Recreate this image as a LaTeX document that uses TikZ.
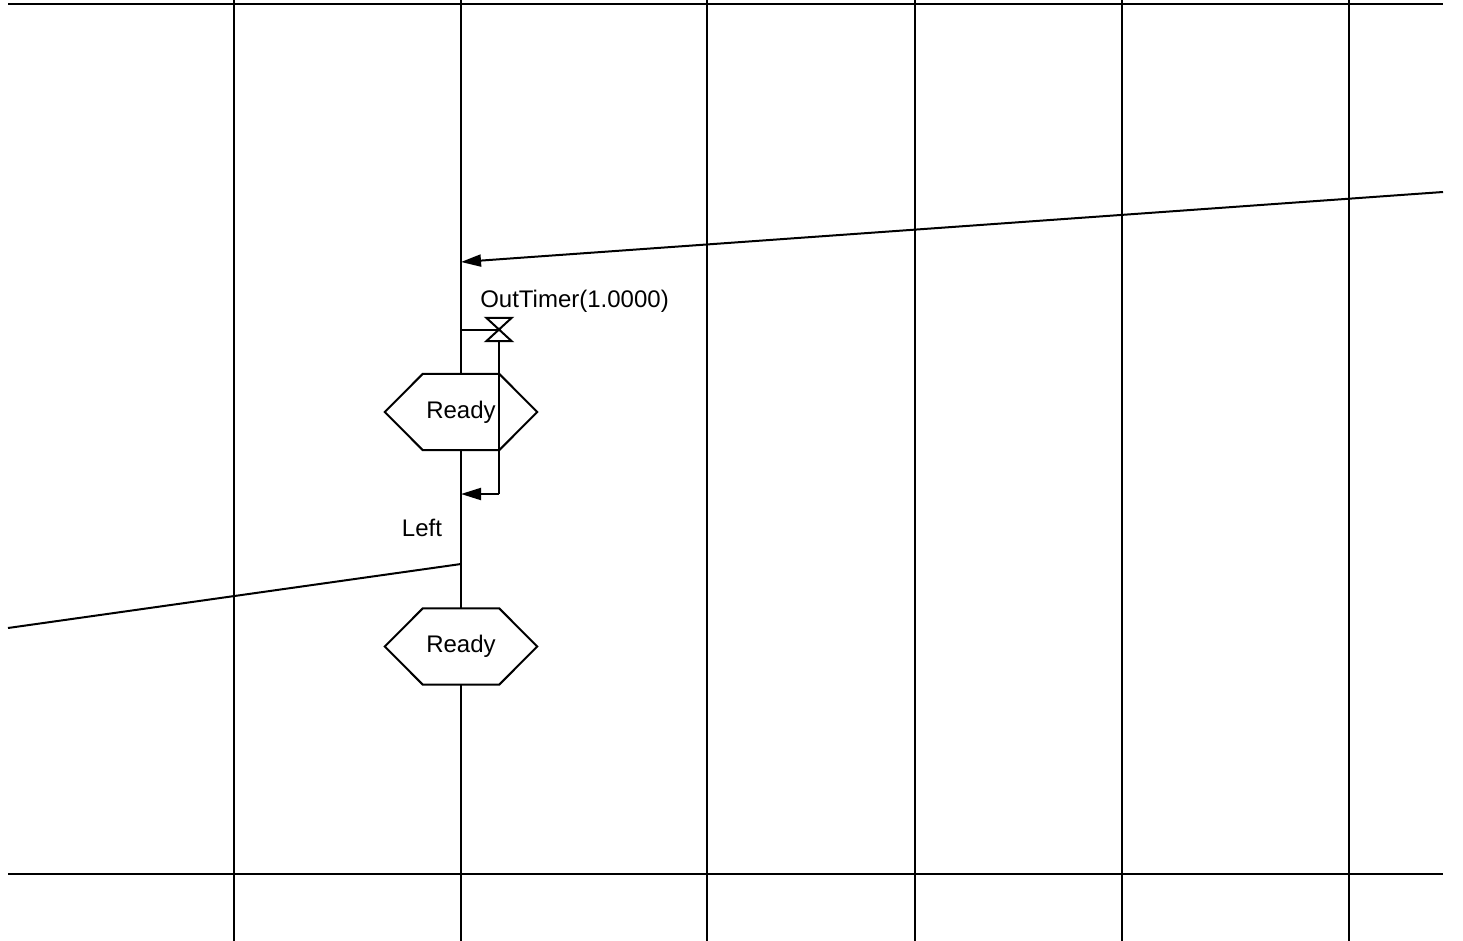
\documentclass[tikz,border=0pt]{standalone}
\usepackage{fontspec}
\setmainfont{Liberation Sans}
\usetikzlibrary{arrows.meta}
\begin{document}
\begin{tikzpicture}[x=1pt,y=-1pt,
  ln/.style={line width=2pt, black},
  msg/.style={ln, -{Triangle[length=20pt,width=12pt]}},
  lbl/.style={inner sep=0pt, font=\fontsize{24}{28}\selectfont},
  hexbox/.style={inner sep=0pt, minimum width=152pt, minimum height=76pt, font=\fontsize{24}{28}\selectfont},
  timerbox/.style={inner sep=0pt, minimum width=25pt, minimum height=23pt}]
\useasboundingbox (0,0) rectangle (1463,941);
% frame lines
\coordinate (tl) at (8,4.5); \coordinate (tr) at (1443,4.5);
\coordinate (bl) at (8,874); \coordinate (br) at (1443,874);
\draw[ln] (tl) -- (tr);
\draw[ln] (bl) -- (br);
% lifelines
\foreach \x/\n in {234/a,461/b,707/c,915/d,1122/e,1349/f}{
  \coordinate (\n top) at (\x,0);
  \coordinate (\n bot) at (\x,941);
  \draw[ln] (\n top) -- (\n bot);
}
% messages
\coordinate (m1s) at (1443,192);
\coordinate (m1e) at (461,262);
\draw[msg] (m1s) -- (m1e);
\coordinate (m2s) at (461,564);
\coordinate (m2e) at (8,628);
\draw[ln] (m2s) -- (m2e);
\node[lbl] (leftlbl) at (422,528) {Left};
% states
\node[hexbox] (r1) at (461,412) {};
\node[hexbox] (r2) at (461,646.5) {};
\foreach \r in {r1,r2}{
  \draw[ln, fill=white, line join=miter] (\r.west) -- ([xshift=38pt]\r.north west) -- ([xshift=-38pt]\r.north east)
    -- (\r.east) -- ([xshift=-38pt]\r.south east) -- ([xshift=38pt]\r.south west) -- cycle;
}
\node[lbl] at (r1) {Ready};
\node[lbl] at (r2) {Ready};
% timer
\node[timerbox] (tm) at (499,329.5) {};
\coordinate (tmstart) at (461,329.5);
\draw[ln] (tmstart) -- (tm.center);
\draw[ln, line join=miter] (tm.north west) -- (tm.north east) -- (tm.south west) -- (tm.south east) -- cycle;
\node[lbl] (tmlbl) at (574.5,301) {OutTimer(1.0000)};
\coordinate (tmcorner) at (499,494);
\coordinate (tmend) at (461,494);
\draw[ln] (tm.south) -- (tmcorner);
\draw[msg] (tmcorner) -- (tmend);
\end{tikzpicture}
\end{document}
